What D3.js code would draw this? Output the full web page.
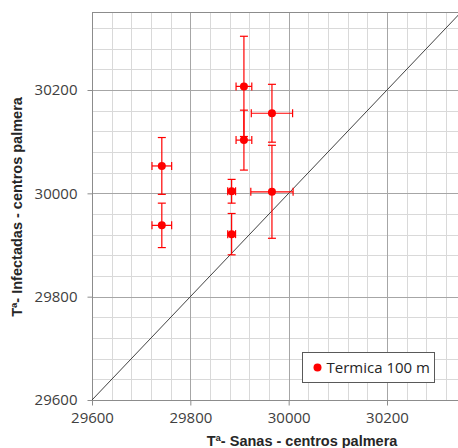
<!DOCTYPE html>
<html>
<head>
<meta charset="utf-8">
<script src="https://cdn.jsdelivr.net/npm/d3@7"></script>
<style>
  body { margin: 0; background: #fff; }
  svg { display: block; font-family: "Open Sans", "Liberation Sans", Arial, sans-serif; }
</style>
</head>
<body>
<div id="grafico"></div>
<script>
// valores
var sanas      = [29742, 29742, 29909, 29909, 29966, 29966, 29884, 29884];
var infectadas = [30053, 29938, 30207, 30103, 30155, 30003, 30004, 29921];
var errSanas   = [20, 20, 16, 16, 42, 43, 8, 8];
var errInfect  = [55, 43, 97, 58, 56, 90, 23, 40];
var ticksPrincipales = [29600, 29800, 30000, 30200];
var serie = "Termica 100 m";

var puntos = sanas.map(function (d, i) {
    return { x: d, y: infectadas[i], ex: errSanas[i], ey: errInfect[i] };
});

var width = 458, height = 448;

var x = d3.scaleLinear().domain([29600, 30350]).range([92, 460.75]);
var y = d3.scaleLinear().domain([29600, 30350]).range([400, 12.5]);

var svg = d3.select("#grafico").append("svg")
    .attr("width", width)
    .attr("height", height);

// rejilla menor cada 40
var menores = d3.range(29640, 30360, 40).filter(function (d) { return (d - 29600) % 200 !== 0; });
svg.append("g").selectAll("line")
    .data(menores)
    .enter().append("line")
    .attr("x1", function (d) { return Math.round(x(d)) + 0.5; })
    .attr("x2", function (d) { return Math.round(x(d)) + 0.5; })
    .attr("y1", y(30350)).attr("y2", y(29600))
    .attr("stroke", "#d9d9d9");
svg.append("g").selectAll("line")
    .data(menores)
    .enter().append("line")
    .attr("y1", function (d) { return Math.round(y(d)) + 0.5; })
    .attr("y2", function (d) { return Math.round(y(d)) + 0.5; })
    .attr("x1", x(29600)).attr("x2", width)
    .attr("stroke", "#d9d9d9");

// rejilla principal
svg.append("g").selectAll("line")
    .data(ticksPrincipales.slice(1))
    .enter().append("line")
    .attr("x1", function (d) { return Math.round(x(d)) + 0.5; })
    .attr("x2", function (d) { return Math.round(x(d)) + 0.5; })
    .attr("y1", y(30350)).attr("y2", y(29600))
    .attr("stroke", "#a6a6a6");
svg.append("g").selectAll("line")
    .data(ticksPrincipales.slice(1))
    .enter().append("line")
    .attr("y1", function (d) { return Math.round(y(d)) + 0.5; })
    .attr("y2", function (d) { return Math.round(y(d)) + 0.5; })
    .attr("x1", x(29600)).attr("x2", width)
    .attr("stroke", "#a6a6a6");

// borde superior
svg.append("line")
    .attr("x1", x(29600)).attr("x2", width)
    .attr("y1", 12.5).attr("y2", 12.5)
    .attr("stroke", "#8c8c8c");

// ejes
var ejeX = svg.append("g")
    .attr("transform", "translate(0," + (Math.round(y(29600)) + 0.5) + ")")
    .call(d3.axisBottom(x).tickValues(ticksPrincipales).tickSize(5).tickSizeOuter(0).tickPadding(7).tickFormat(d3.format("d")));
var ejeY = svg.append("g")
    .attr("transform", "translate(" + (Math.round(x(29600)) + 0.5) + ",0)")
    .call(d3.axisLeft(y).tickValues(ticksPrincipales).tickSize(5).tickSizeOuter(0).tickPadding(10).tickFormat(d3.format("d")));
[ejeX, ejeY].forEach(function (g) {
    g.select(".domain").attr("stroke", "#8c8c8c");
    g.selectAll(".tick line").attr("stroke", "#8c8c8c");
    g.selectAll(".tick text")
        .attr("fill", "#404040")
        .style("font-size", "15px")
        .style("font-family", "'Open Sans', 'Liberation Sans', Arial, sans-serif");
});
ejeX.select(".domain").attr("d", "M" + x(29600) + ",0H" + width);
ejeY.select(".domain").attr("d", "M0," + y(29600) + "V12.5");

// diagonal y = x
svg.append("line")
    .attr("x1", x(29600)).attr("y1", y(29600))
    .attr("x2", x(30350)).attr("y2", y(30350))
    .attr("stroke", "#404040")
    .attr("stroke-width", 1);

// barras de error
var rojo = "#ff0000";
var cap = 4;
var err = svg.append("g").attr("stroke", rojo).attr("stroke-width", 1.2);
puntos.forEach(function (d) {
    var cx = x(d.x), cy = y(d.y);
    var y1 = y(d.y + d.ey), y2 = y(d.y - d.ey);
    var x1 = x(d.x - d.ex), x2 = x(d.x + d.ex);
    err.append("line").attr("x1", cx).attr("x2", cx).attr("y1", y1).attr("y2", y2);
    err.append("line").attr("x1", cx - cap).attr("x2", cx + cap).attr("y1", y1).attr("y2", y1);
    err.append("line").attr("x1", cx - cap).attr("x2", cx + cap).attr("y1", y2).attr("y2", y2);
    err.append("line").attr("x1", x1).attr("x2", x2).attr("y1", cy).attr("y2", cy);
    err.append("line").attr("x1", x1).attr("x2", x1).attr("y1", cy - cap).attr("y2", cy + cap);
    err.append("line").attr("x1", x2).attr("x2", x2).attr("y1", cy - cap).attr("y2", cy + cap);
});

svg.selectAll(".punto")
    .data(puntos)
    .enter().append("circle")
    .attr("class", "punto")
    .attr("cx", function (d) { return x(d.x); })
    .attr("cy", function (d) { return y(d.y); })
    .attr("r", 4)
    .attr("fill", rojo);

// leyenda
var ley = svg.append("g").attr("transform", "translate(302.5,352.5)");
ley.append("rect")
    .attr("width", 132).attr("height", 30)
    .attr("fill", "#fff").attr("stroke", "#595959");
ley.append("circle").attr("cx", 15).attr("cy", 15).attr("r", 4).attr("fill", rojo);
ley.append("text")
    .attr("x", 24).attr("y", 20.5)
    .attr("fill", "#262626")
    .style("font-size", "15px")
    .text(serie);

// títulos de ejes
svg.append("text")
    .attr("x", 302).attr("y", 446)
    .attr("text-anchor", "middle")
    .style("font-family", "'Liberation Sans', Arial, sans-serif")
    .style("font-size", "14.5px")
    .style("font-weight", "bold")
    .attr("fill", "#262626")
    .text("Tª- Sanas - centros palmera");
svg.append("text")
    .attr("transform", "translate(22,207) rotate(-90)")
    .attr("text-anchor", "middle")
    .style("font-family", "'Liberation Sans', Arial, sans-serif")
    .style("font-size", "14.5px")
    .style("font-weight", "bold")
    .attr("fill", "#262626")
    .text("Tª- Infectadas - centros palmera");
</script>
</body>
</html>
